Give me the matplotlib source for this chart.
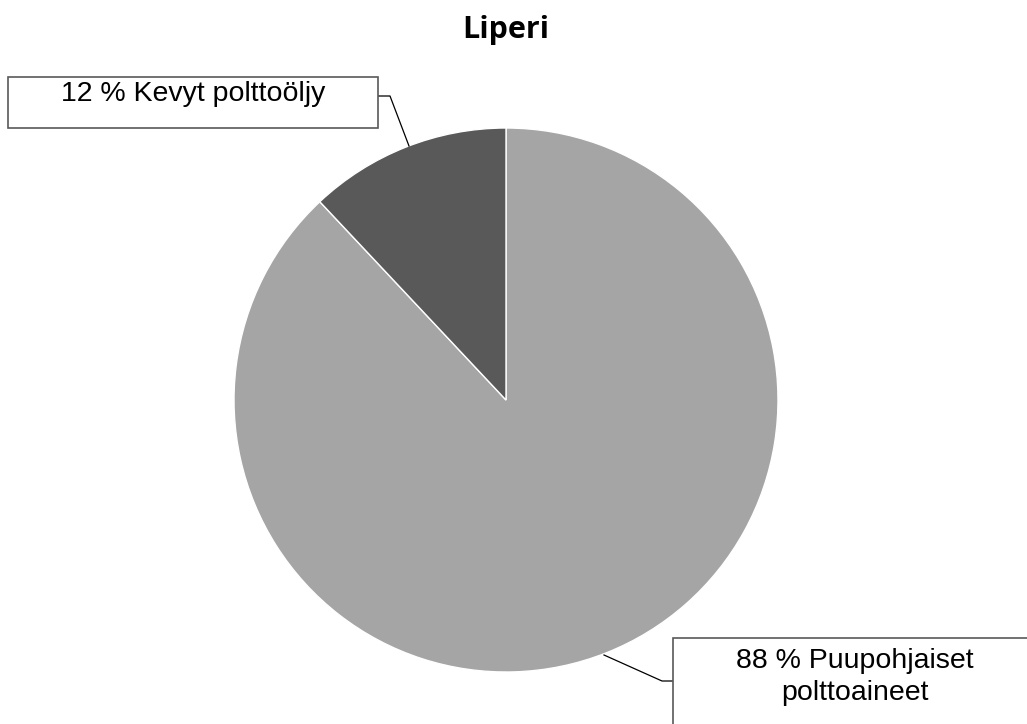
import matplotlib.pyplot as plt
from matplotlib.patches import Rectangle

# data
labels = ["Puupohjaiset\npolttoaineet", "Kevyt polttoöljy"]
shares = [88, 12]
colors = ["#a5a5a5", "#595959"]
title = "Liperi"

W, H = 1027, 724
fig = plt.figure(figsize=(W / 100, H / 100), dpi=100)
ax = fig.add_axes([0, 0, 1, 1])

# pie centre / radius in pixel coords (y up)
cx, cy, r = 506, H - 400, 272
ax.pie(shares, colors=colors, startangle=90, counterclock=False,
       center=(cx, cy), radius=r, frame=True,
       wedgeprops=dict(edgecolor="white", linewidth=1))
ax.set_xlim(0, W)
ax.set_ylim(0, H)
ax.set_aspect("equal")
ax.axis("off")

fig.text(506 / W, 1 - 30 / H, title, ha="center", va="center",
         fontsize=22, fontweight="bold", family="Open Sans")

def label_box(x0, y0, x1, y1, text, ty, leader):
    # box given in pixel coords (y down)
    ax.add_patch(Rectangle((x0, H - y1), x1 - x0, y1 - y0, facecolor="white",
                           edgecolor="#595959", linewidth=1.2, zorder=3, clip_on=False))
    ax.text((x0 + x1) / 2, H - ty, text, ha="center", va="center",
            fontsize=20.5, family="Liberation Sans", linespacing=1.32, zorder=4)
    xs = [p[0] for p in leader]
    ys = [H - p[1] for p in leader]
    ax.plot(xs, ys, color="black", linewidth=0.9, zorder=2)

label_box(8, 77, 378, 128, f"{shares[1]} % {labels[1]}", 94,
          [(378, 96), (390, 96), (409, 146)])
label_box(673, 638, 1037, 740, f"{shares[0]} % {labels[0]}", 677,
          [(673, 681), (662, 681), (604, 655)])

fig.savefig("out.png", dpi=100)
